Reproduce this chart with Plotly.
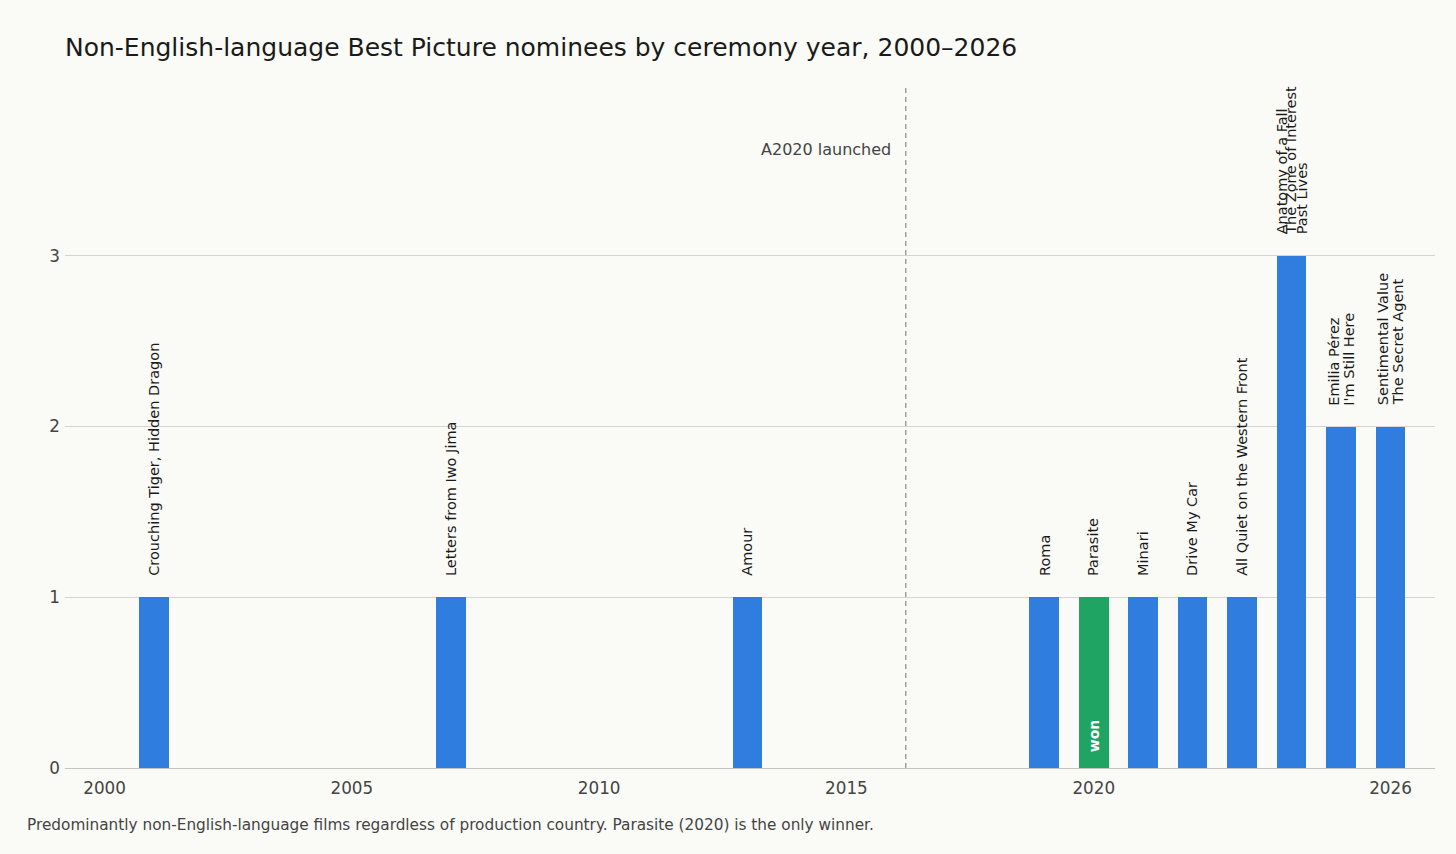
"""
Non-English-language Best Picture nominees per ceremony year, 2000-2026.
"""
import plotly.graph_objects as go

FONT = "DejaVu Sans"
BLUE = "#2f7ddf"
GREEN = "#1fa463"
BG = "#fafaf6"

# ceremony years that had at least one non-English-language nominee
years = [2001, 2007, 2013, 2019, 2020, 2021, 2022, 2023, 2024, 2025, 2026]
counts = [1, 1, 1, 1, 1, 1, 1, 1, 3, 2, 2]
nominees = [
    ["Crouching Tiger, Hidden Dragon"],
    ["Letters from Iwo Jima"],
    ["Amour"],
    ["Roma"],
    ["Parasite"],
    ["Minari"],
    ["Drive My Car"],
    ["All Quiet on the Western Front"],
    ["Anatomy of a Fall", "The Zone of Interest", "Past Lives"],
    ["Emilia Pérez", "I'm Still Here"],
    ["Sentimental Value", "The Secret Agent"],
]
winner_years = [2020]

x_ticks = [2000, 2005, 2010, 2015, 2020, 2026]
y_ticks = [0, 1, 2, 3]
a2020_year = 2016.2

colors = [GREEN if y in winner_years else BLUE for y in years]

fig = go.Figure(
    go.Bar(
        x=years,
        y=counts,
        width=0.6,
        marker=dict(color=colors, line=dict(width=0)),
        hoverinfo="x+y",
    )
)

# film titles above each bar, one rotated line per film
annotations = []
for year, count, films in zip(years, counts, nominees):
    n = len(films)
    step = 10 if n > 2 else 15.5  # 3-title year is squeezed tighter
    for i, film in enumerate(films):
        offset = (i - (n - 1) / 2) * step
        annotations.append(dict(
            x=year, y=count, xref="x", yref="y",
            text=film, textangle=-90, showarrow=False,
            xanchor="center", yanchor="bottom",
            xshift=offset, yshift=19,
            font=dict(family=FONT, size=14.5, color="#1a1a1a"),
        ))

# "won" tag inside the winning bar
for year in winner_years:
    annotations.append(dict(
        x=year, y=0, xref="x", yref="y",
        text="<b>won</b>", textangle=-90, showarrow=False,
        xanchor="center", yanchor="bottom", yshift=14,
        font=dict(family=FONT, size=14, color="white"),
    ))

annotations.append(dict(
    x=a2020_year, y=3.62, xref="x", yref="y",
    text="A2020 launched", showarrow=False,
    xanchor="right", yanchor="middle", xshift=-13,
    font=dict(family=FONT, size=16, color="#444444"),
))

annotations.append(dict(
    x=-0.0292, y=-0.0835, xref="paper", yref="paper",
    text="Predominantly non-English-language films regardless of production country. "
         "Parasite (2020) is the only winner.",
    showarrow=False, xanchor="left", yanchor="middle",
    font=dict(family=FONT, size=15.3, color="#444444"),
))

fig.add_shape(
    type="line", x0=a2020_year, x1=a2020_year, y0=0, y1=1,
    xref="x", yref="paper",
    line=dict(color="#8a8a8a", width=1.2, dash="5px,4px"),
)

fig.update_layout(
    width=1456,
    height=854,
    paper_bgcolor=BG,
    plot_bgcolor=BG,
    margin=dict(l=65, r=21, t=85, b=86),
    showlegend=False,
    bargap=0,
    title=dict(
        text="Non-English-language Best Picture nominees by ceremony year, 2000–2026",
        x=0, xref="paper", xanchor="left",
        y=0.945, yref="container", yanchor="middle",
        font=dict(family=FONT, size=25, color="#1a1a1a"),
    ),
    xaxis=dict(
        range=[1999.2, 2026.9],
        tickvals=x_ticks,
        ticks="", ticklabelstandoff=5,
        showgrid=False, zeroline=False,
        showline=True, linecolor="#c4c4c4", linewidth=1,
        tickfont=dict(family=FONT, size=16.8, color="#444444"),
    ),
    yaxis=dict(
        range=[0, 4],
        tickvals=y_ticks,
        ticks="", ticklabelstandoff=4,
        showgrid=True, gridcolor="#d4d4d4", gridwidth=1,
        zeroline=False, showline=False,
        tickfont=dict(family=FONT, size=16.8, color="#444444"),
    ),
    annotations=annotations,
)

# drop the browser's default page margin so the figure fills the window
fig.write_html(
    "out.html",
    config={"displayModeBar": False},
    post_script="document.body.style.margin='0';document.body.style.background='%s';" % BG,
)
